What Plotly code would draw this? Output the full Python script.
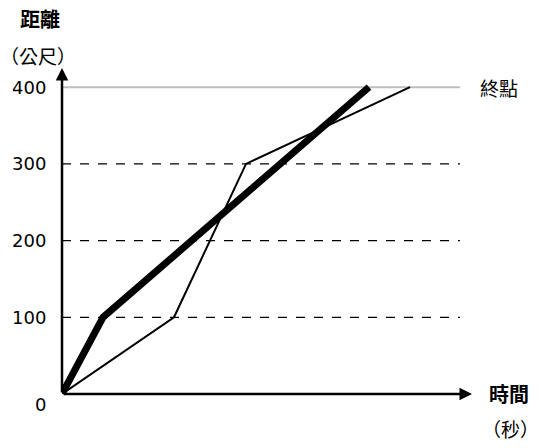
"""
    Distance-time chart: two runners reaching the finish line at 400 m.
"""
import plotly.graph_objects as go

# data
time_thick = [0, 4.1, 30.7]
dist_thick = [0, 100, 400]
time_thin = [0, 11.2, 18.4, 34.8]
dist_thin = [0, 100, 300, 400]
grid_dashed = [100, 200, 300]
finish_value = 400
tick_values = [0, 100, 200, 300, 400]
tick_labels = ["0", "100", "200", "300", "400"]

CJK = "Noto Sans CJK TC"
NUM = "DejaVu Sans"

# the page body has an 8px margin, so the figure is a bit smaller than the window
W, H = 539, 440
L, R, T, B = 54, 75, 60, 54
OFF = 8

fig = go.Figure()

# grid lines
for v in grid_dashed:
    fig.add_shape(type="line", xref="x", yref="y", x0=0, x1=39.8, y0=v, y1=v,
                  line=dict(color="black", width=1.2, dash="dash"), layer="below")
fig.add_shape(type="line", xref="x", yref="y", x0=0, x1=39.8, y0=finish_value, y1=finish_value,
              line=dict(color="rgb(190,190,190)", width=2), layer="below")

fig.add_trace(go.Scatter(x=time_thin, y=dist_thin, mode="lines",
                         line=dict(color="black", width=2), hoverinfo="skip"))
fig.add_trace(go.Scatter(x=time_thick, y=dist_thick, mode="lines",
                         line=dict(color="black", width=7), hoverinfo="skip"))

# axes with arrows
fig.add_annotation(x=41, y=0, ax=0, ay=0, xref="x", yref="y", axref="x", ayref="y",
                   showarrow=True, arrowhead=2, arrowsize=1, arrowwidth=2.5,
                   arrowcolor="black", text="")
fig.add_annotation(x=0, y=425, ax=0, ay=0, xref="x", yref="y", axref="x", ayref="y",
                   showarrow=True, arrowhead=2, arrowsize=1, arrowwidth=2.5,
                   arrowcolor="black", text="")

# tick labels
for v, lab in zip(tick_values, tick_labels):
    fig.add_annotation(x=0, y=v, xref="x", yref="y", text=lab, showarrow=False,
                       xanchor="right", xshift=-14, yshift=-10 if v == 0 else 0,
                       font=dict(family=NUM, size=18, color="black"))

# titles and labels (positions in window pixels, centre of the text)
labels = [
    (40, 18, "<b>距離</b>", 20),
    (38, 55, "（公尺）", 19),
    (509, 393, "<b>時間</b>", 20),
    (510, 428, "（秒）", 19),
    (499, 87, "終點", 19),
]
for px, py, txt, size in labels:
    fig.add_annotation(
        x=(px - OFF - L) / (W - L - R),
        y=1 - (py - OFF - T) / (H - T - B),
        xref="paper", yref="paper", xanchor="center", yanchor="middle",
        text=txt, showarrow=False, font=dict(family=CJK, size=size, color="black"),
    )

fig.update_xaxes(range=[0, 41], visible=False, fixedrange=True)
fig.update_yaxes(range=[0, 425], visible=False, fixedrange=True)

fig.update_layout(
    width=W, height=H,
    margin=dict(l=L, r=R, t=T, b=B),
    paper_bgcolor="white", plot_bgcolor="white",
    showlegend=False,
)

fig.write_html("out.html")
